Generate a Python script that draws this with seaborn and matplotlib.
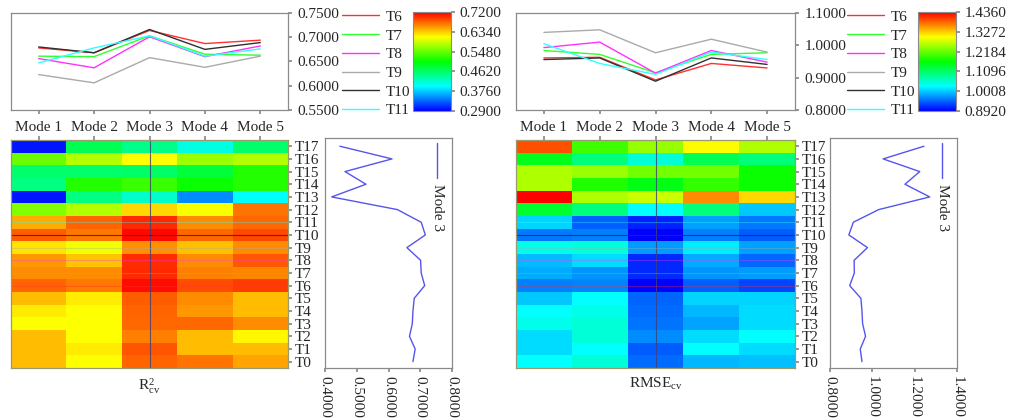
import numpy as np
import pandas as pd
import matplotlib
matplotlib.use("Agg")
import matplotlib.pyplot as plt
import seaborn as sns
from matplotlib.colors import LinearSegmentedColormap
from matplotlib.ticker import FormatStrFormatter

sns.set_theme(style="white")
plt.rcParams["font.family"] = ["Liberation Serif", "DejaVu Serif"]
plt.rcParams["font.size"] = 11

modes = ["Mode 1", "Mode 2", "Mode 3", "Mode 4", "Mode 5"]
rows = [f"T{i}" for i in range(18)]
line_rows = ["T6", "T7", "T8", "T9", "T10", "T11"]
line_colors = ["#ff3030", "#30ff30", "#ff30ff", "#aaaaaa", "#303030", "#30ffff"]

# R2cv, rows T0..T17
r2_mode1 = [0.640, 0.640, 0.640, 0.612, 0.620, 0.640, 0.678, 0.661, 0.656, 0.623, 0.680, 0.647, 0.560, 0.300, 0.450, 0.460, 0.550, 0.300]
r2_mode2 = [0.612, 0.620, 0.612, 0.612, 0.612, 0.620, 0.668, 0.660, 0.637, 0.606, 0.668, 0.678, 0.580, 0.450, 0.520, 0.460, 0.580, 0.470]
r2_mode3 = [0.677, 0.684, 0.666, 0.675, 0.677, 0.681, 0.714, 0.703, 0.701, 0.658, 0.716, 0.703, 0.628, 0.421, 0.529, 0.463, 0.611, 0.447]
r2_mode4 = [0.670, 0.640, 0.640, 0.675, 0.655, 0.660, 0.687, 0.665, 0.660, 0.638, 0.675, 0.661, 0.610, 0.350, 0.510, 0.480, 0.570, 0.410]
r2_mode5 = [0.650, 0.640, 0.615, 0.660, 0.640, 0.640, 0.694, 0.663, 0.682, 0.661, 0.689, 0.676, 0.670, 0.400, 0.520, 0.520, 0.580, 0.460]

# RMSEcv, rows T0..T17
rmse_mode1 = [1.030, 1.010, 1.010, 1.040, 1.030, 1.000, 0.961, 0.984, 0.993, 1.040, 0.956, 1.005, 1.140, 1.436, 1.257, 1.257, 1.150, 1.393]
rmse_mode2 = [1.050, 1.030, 1.050, 1.050, 1.040, 1.028, 0.963, 0.972, 1.010, 1.048, 0.961, 0.944, 1.100, 1.257, 1.180, 1.245, 1.100, 1.197]
rmse_mode3 = [0.951, 0.943, 0.968, 0.954, 0.951, 0.946, 0.893, 0.915, 0.914, 0.977, 0.889, 0.910, 1.030, 1.271, 1.154, 1.224, 1.051, 1.244]
rmse_mode4 = [0.990, 1.030, 1.010, 0.980, 0.990, 1.005, 0.944, 0.972, 0.984, 1.019, 0.961, 0.979, 1.100, 1.360, 1.190, 1.224, 1.120, 1.300]
rmse_mode5 = [0.995, 1.010, 1.028, 1.010, 1.010, 1.005, 0.930, 0.977, 0.948, 0.979, 0.941, 0.956, 1.000, 1.320, 1.170, 1.170, 1.100, 1.257]

r2_cbar_ticks = [0.2900, 0.3760, 0.4620, 0.5480, 0.6340, 0.7200]
rmse_cbar_ticks = [0.8920, 1.0008, 1.1096, 1.2184, 1.3272, 1.4360]

r2 = pd.DataFrame(dict(zip(modes, [r2_mode1, r2_mode2, r2_mode3, r2_mode4, r2_mode5])), index=rows)
rmse = pd.DataFrame(dict(zip(modes, [rmse_mode1, rmse_mode2, rmse_mode3, rmse_mode4, rmse_mode5])), index=rows)

cmap = LinearSegmentedColormap.from_list("jetlike", ["#0000ff", "#00ffff", "#00ff00", "#ffff00", "#ff0000"])
W, H = 1024, 418
SPINE = "#8a8a8a"


def rect(x0, y0, x1, y1):
    return [x0 / W, 1 - y1 / H, (x1 - x0) / W, (y1 - y0) / H]


def style_spines(ax, color=SPINE):
    for s in ax.spines.values():
        s.set_visible(True)
        s.set_color(color)
        s.set_linewidth(0.9)


def panel(fig, df, dx, hm_right, top_lim, top_step, prof_lim, prof_ticks, cbar_ticks, label):
    # top line plot
    ax_top = fig.add_axes(rect(11 + dx, 13, hm_right, 110))
    pos = np.arange(len(modes)) + 0.5
    for r, c in zip(line_rows, line_colors):
        sns.lineplot(x=pos, y=df.loc[r].values, ax=ax_top, color=c, lw=1.0, label=r, sort=False)
    ax_top.set_xlim(0, len(modes))
    ax_top.set_ylim(*top_lim)
    ax_top.set_yticks(np.arange(top_lim[0], top_lim[1] + 1e-9, top_step))
    ax_top.yaxis.set_major_formatter(FormatStrFormatter("%.4f"))
    ax_top.yaxis.tick_right()
    ax_top.set_xticks(pos)
    ax_top.set_xticklabels(modes)
    ax_top.tick_params(axis="both", which="both", direction="out", length=3, color=SPINE,
                       labelsize=11, pad=4, right=True, bottom=True)
    ax_top.tick_params(axis="x", pad=5)
    style_spines(ax_top)
    handles, labels = ax_top.get_legend_handles_labels()
    ax_top.get_legend().remove()
    fig.legend(handles, labels, loc="upper left",
               bbox_to_anchor=((336 + dx) / W, 1 - 4 / H), frameon=False,
               handlelength=2.4, handletextpad=0.45, labelspacing=0.33,
               borderaxespad=0, fontsize=11)

    # colorbar
    cax = fig.add_axes(rect(413 + dx, 12, 451 + dx, 111))

    # heatmap
    ax_hm = fig.add_axes(rect(11 + dx, 140, hm_right, 368))
    flipped = df.iloc[::-1]
    sns.heatmap(flipped, ax=ax_hm, cmap=cmap, vmin=cbar_ticks[0], vmax=cbar_ticks[-1],
                cbar=True, cbar_ax=cax, linewidths=0, xticklabels=True, yticklabels=True)
    ax_hm.xaxis.tick_top()
    ax_hm.tick_params(axis="x", top=True, labeltop=False, bottom=False, labelbottom=False,
                      direction="out", length=3, color=SPINE)
    ax_hm.yaxis.tick_right()
    ax_hm.tick_params(axis="y", right=True, labelright=True, left=False, labelleft=False,
                      direction="out", length=3, color=SPINE, labelsize=11, pad=2, rotation=0)
    ax_hm.set_ylabel("")
    ax_hm.set_xlabel(label, fontsize=11, labelpad=6)
    ax_hm.xaxis.set_label_position("bottom")
    style_spines(ax_hm, "#9a9a70")
    # crosshair lines
    ax_hm.axvline(modes.index("Mode 3") + 0.5, color="#404078", lw=0.8, alpha=0.8)
    for r, c in zip(line_rows, line_colors):
        yi = list(flipped.index).index(r) + 0.5
        ax_hm.axhline(yi, color=c if r != "T10" else "#303030", lw=0.8,
                      alpha=0.9 if r == "T10" else 0.35)

    cbar = ax_hm.collections[0].colorbar
    cbar.set_ticks(cbar_ticks)
    cbar.ax.yaxis.set_major_formatter(FormatStrFormatter("%.4f"))
    cbar.ax.tick_params(direction="out", length=3, color=SPINE, labelsize=11, pad=3)
    cbar.outline.set_edgecolor(SPINE)
    cbar.outline.set_linewidth(0.8)

    # Mode 3 profile
    ax_p = fig.add_axes(rect(325 + dx, 138, 452 + dx, 368))
    ypos = np.arange(len(rows))
    ax_p.plot(df["Mode 3"].values, ypos, color="#5555ee", lw=1.0)
    ax_p.set_ylim(-0.5, 17.65)
    ax_p.set_yticks([])
    ax_p.set_xlim(*prof_lim)
    ax_p.set_xticks(prof_ticks)
    ax_p.xaxis.set_major_formatter(FormatStrFormatter("%.4f"))
    ax_p.tick_params(axis="x", direction="out", length=3, color=SPINE, labelsize=11,
                     labelrotation=-90, pad=3, bottom=True)
    style_spines(ax_p)
    lx = 0.885
    ax_p.plot([lx, lx], [0.978, 0.826], transform=ax_p.transAxes, color="#5555ee", lw=1.0)
    ax_p.text(lx, 0.80, "Mode 3", transform=ax_p.transAxes, rotation=-90,
              ha="center", va="top", fontsize=11)


fig = plt.figure(figsize=(W / 100, H / 100), dpi=100)
panel(fig, r2, 0, 288, (0.55, 0.75), 0.05, (0.4, 0.8), [0.4, 0.5, 0.6, 0.7, 0.8],
      r2_cbar_ticks, r"$\mathregular{R^{2}_{cv}}$")
panel(fig, rmse, 505, 795, (0.8, 1.1), 0.1, (0.8, 1.4), [0.8, 1.0, 1.2, 1.4],
      rmse_cbar_ticks, r"$\mathregular{RMSE_{cv}}$")
fig.savefig("out.png", dpi=100)
